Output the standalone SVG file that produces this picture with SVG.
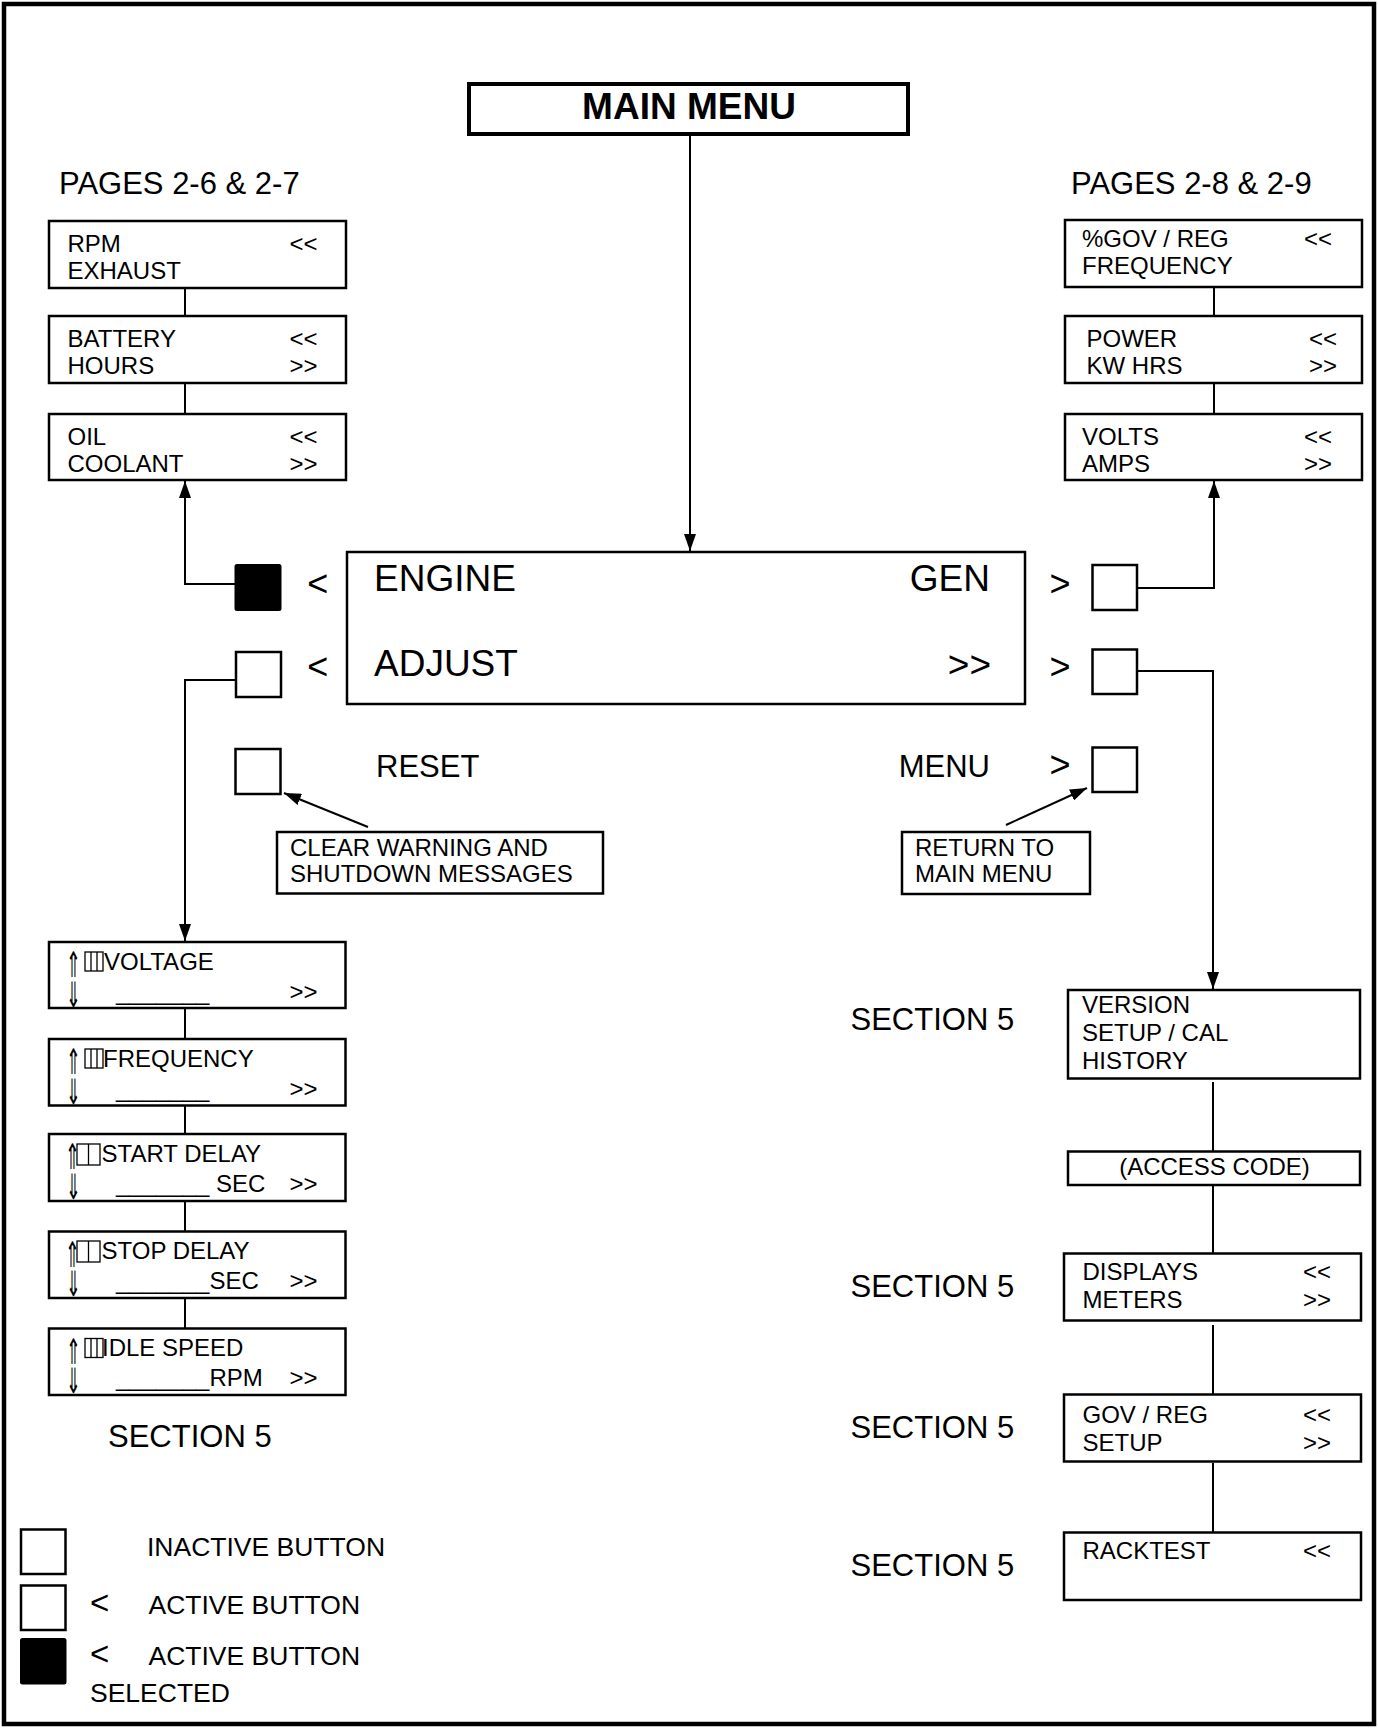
<svg xmlns="http://www.w3.org/2000/svg" width="1378" height="1728" viewBox="0 0 1378 1728">
<defs>
<style>
.box{fill:#fff;stroke:#000;stroke-width:2.5}
.sel{fill:#000;stroke:#000;stroke-width:2}
.t{font-family:"Liberation Sans",Arial,Helvetica,sans-serif;fill:#000}
.s{font-size:24px}
.m{font-size:31px}
.l{font-size:37px}
.h{font-size:31px}
.ar{font-family:"DejaVu Sans",sans-serif;font-size:27px;fill:#000}
.c{fill:none;stroke:#000;stroke-width:2}
.tofu{fill:none;stroke:#000;stroke-width:1.3}
</style>
<marker id="ah" viewBox="0 0 17 12" refX="17" refY="6" markerWidth="17" markerHeight="12" markerUnits="userSpaceOnUse" orient="auto"><path d="M0,0L17,6L0,12z" fill="#000"/></marker>
</defs>
<rect width="1378" height="1728" fill="#fff"/>
<rect x="4" y="4" width="1370" height="1720" fill="none" stroke="#000" stroke-width="4.5"/>

<g id="connectors">
<path class="c" d="M690,134V551" marker-end="url(#ah)"/>
<path class="c" d="M235,584H185V481" marker-end="url(#ah)"/>
<path class="c" d="M236,680H185V941" marker-end="url(#ah)"/>
<path class="c" d="M1137,588H1214V481" marker-end="url(#ah)"/>
<path class="c" d="M1137,671H1213V989" marker-end="url(#ah)"/>
<path class="c" d="M368,827L284,793" marker-end="url(#ah)"/>
<path class="c" d="M1006,825L1087,788" marker-end="url(#ah)"/>
<path class="c" d="M185,288V316M185,383V414"/>
<path class="c" d="M1214,287V316M1214,383V414"/>
<path class="c" d="M185,1008V1039M185,1105V1134M185,1201V1232M185,1298V1328"/>
<path class="c" d="M1213,1082V1151M1213,1185V1253M1213,1325V1394M1213,1463V1532"/>
</g>

<g id="main-menu">
<rect x="469" y="84" width="439" height="50" fill="#fff" stroke="#000" stroke-width="4"/>
<text x="689" y="119" text-anchor="middle" class="t" font-size="37" font-weight="bold">MAIN MENU</text>
</g>

<text x="59" y="194" class="t m">PAGES 2-6 &amp; 2-7</text>
<text x="1071" y="194" class="t m">PAGES 2-8 &amp; 2-9</text>

<g id="rpm-exhaust">
<rect class="box" x="49" y="221" width="297" height="67"/>
<text x="67.5" y="252" class="t s">RPM</text>
<text x="67.5" y="279" class="t s">EXHAUST</text>
<text x="289.5" y="252" class="t s">&lt;&lt;</text>
</g>
<g id="battery-hours">
<rect class="box" x="49" y="316" width="297" height="67"/>
<text x="67.5" y="347" class="t s">BATTERY</text>
<text x="67.5" y="374" class="t s">HOURS</text>
<text x="289.5" y="347" class="t s">&lt;&lt;</text>
<text x="289.5" y="374" class="t s">&gt;&gt;</text>
</g>
<g id="oil-coolant">
<rect class="box" x="49" y="414" width="297" height="66"/>
<text x="67.5" y="445" class="t s">OIL</text>
<text x="67.5" y="472" class="t s">COOLANT</text>
<text x="289.5" y="445" class="t s">&lt;&lt;</text>
<text x="289.5" y="472" class="t s">&gt;&gt;</text>
</g>

<g id="gov-freq">
<rect class="box" x="1065" y="220" width="297" height="67"/>
<text x="1082" y="247" class="t s">%GOV / REG</text>
<text x="1082" y="274" class="t s">FREQUENCY</text>
<text x="1304" y="247" class="t s">&lt;&lt;</text>
</g>
<g id="power-kwhrs">
<rect class="box" x="1065" y="316" width="297" height="67"/>
<text x="1086.5" y="347" class="t s">POWER</text>
<text x="1086.5" y="374" class="t s">KW HRS</text>
<text x="1309" y="347" class="t s">&lt;&lt;</text>
<text x="1309" y="374" class="t s">&gt;&gt;</text>
</g>
<g id="volts-amps">
<rect class="box" x="1065" y="414" width="297" height="66"/>
<text x="1082" y="445" class="t s">VOLTS</text>
<text x="1082" y="472" class="t s">AMPS</text>
<text x="1304" y="445" class="t s">&lt;&lt;</text>
<text x="1304" y="472" class="t s">&gt;&gt;</text>
</g>

<g id="display">
<rect class="box" x="347" y="552" width="678" height="152"/>
<text x="374" y="591" class="t l">ENGINE</text>
<text x="990" y="591" class="t l" text-anchor="end">GEN</text>
<text x="374" y="676" class="t l">ADJUST</text>
<text x="991" y="676.5" class="t l" text-anchor="end">&gt;&gt;</text>
</g>

<g id="btn-engine">
<rect class="sel" x="235.5" y="565" width="45" height="45" rx="1.5"/>
<text x="307.3" y="595.5" class="t" font-size="36">&lt;</text>
</g>
<g id="btn-adjust">
<rect class="box" x="236" y="652" width="45" height="45"/>
<text x="307.3" y="678.5" class="t" font-size="36">&lt;</text>
</g>
<g id="btn-reset">
<rect class="box" x="235.5" y="749" width="45" height="45"/>
<text x="376" y="777" class="t m">RESET</text>
</g>
<g id="btn-gen">
<rect class="box" x="1092.5" y="565" width="44.5" height="45"/>
<text x="1049.5" y="595.5" class="t" font-size="36">&gt;</text>
</g>
<g id="btn-more">
<rect class="box" x="1092.5" y="649.5" width="44.5" height="44.5"/>
<text x="1049.5" y="678.5" class="t" font-size="36">&gt;</text>
</g>
<g id="btn-menu">
<rect class="box" x="1092.5" y="747.5" width="44.5" height="44.5"/>
<text x="990" y="777" class="t m" text-anchor="end">MENU</text>
<text x="1049.5" y="776.5" class="t" font-size="36">&gt;</text>
</g>

<g id="note-clear">
<rect class="box" x="277" y="832" width="326" height="61.5"/>
<text x="290" y="856" class="t s">CLEAR WARNING AND</text>
<text x="290" y="882" class="t s">SHUTDOWN MESSAGES</text>
</g>
<g id="note-return">
<rect class="box" x="902" y="832" width="188" height="62"/>
<text x="915" y="856" class="t s">RETURN TO</text>
<text x="915" y="882" class="t s">MAIN MENU</text>
</g>

<g id="adj-voltage">
<rect class="box" x="49" y="942" width="296.5" height="66"/>
<text transform="translate(66,977) scale(0.65,1.3)" class="ar">⇑</text>
<rect class="tofu" x="85" y="952" width="18" height="19"/><path class="tofu" d="M91,952V971M97,952V971"/>
<text x="104" y="969.5" class="t s">VOLTAGE</text>
<text transform="translate(66,1006.5) scale(0.65,1.3)" class="ar">⇓</text>
<text x="116" y="999.5" class="t s">_______</text>
<text x="289.5" y="999.5" class="t s">&gt;&gt;</text>
</g>
<g id="adj-frequency">
<rect class="box" x="49" y="1039" width="296.5" height="66.5"/>
<text transform="translate(66,1074) scale(0.65,1.3)" class="ar">⇑</text>
<rect class="tofu" x="85" y="1049" width="18" height="19"/><path class="tofu" d="M91,1049V1068M97,1049V1068"/>
<text x="103" y="1066.5" class="t s">FREQUENCY</text>
<text transform="translate(66,1103.5) scale(0.65,1.3)" class="ar">⇓</text>
<text x="116" y="1096.5" class="t s">_______</text>
<text x="289.5" y="1096.5" class="t s">&gt;&gt;</text>
</g>
<g id="adj-start-delay">
<rect class="box" x="49" y="1134" width="296.5" height="67"/>
<text transform="translate(65,1169) scale(0.65,1.3)" class="ar">⇑</text>
<rect class="tofu" x="77" y="1144" width="23" height="21"/><path class="tofu" d="M88.5,1144V1165" stroke-width="2"/>
<text x="101.5" y="1161.5" class="t s">START DELAY</text>
<text transform="translate(66,1198.5) scale(0.65,1.3)" class="ar">⇓</text>
<text x="116" y="1191.5" class="t s">_______ SEC</text>
<text x="289.5" y="1191.5" class="t s">&gt;&gt;</text>
</g>
<g id="adj-stop-delay">
<rect class="box" x="49" y="1231.5" width="296.5" height="66.5"/>
<text transform="translate(65,1266.5) scale(0.65,1.3)" class="ar">⇑</text>
<rect class="tofu" x="77" y="1241" width="23" height="21"/><path class="tofu" d="M88.5,1241V1262" stroke-width="2"/>
<text x="101.5" y="1259" class="t s">STOP DELAY</text>
<text transform="translate(66,1296) scale(0.65,1.3)" class="ar">⇓</text>
<text x="116" y="1289" class="t s">_______SEC</text>
<text x="289.5" y="1289" class="t s">&gt;&gt;</text>
</g>
<g id="adj-idle-speed">
<rect class="box" x="49" y="1328.5" width="296.5" height="66.5"/>
<text transform="translate(66,1363.5) scale(0.65,1.3)" class="ar">⇑</text>
<rect class="tofu" x="85" y="1338.5" width="18" height="19"/><path class="tofu" d="M91,1338.5V1357.5M97,1338.5V1357.5"/>
<text x="102" y="1356" class="t s">IDLE SPEED</text>
<text transform="translate(66,1393) scale(0.65,1.3)" class="ar">⇓</text>
<text x="116" y="1386" class="t s">_______RPM</text>
<text x="289.5" y="1386" class="t s">&gt;&gt;</text>
</g>
<text x="108" y="1447" class="t h">SECTION 5</text>

<g id="version">
<rect class="box" x="1068" y="990" width="292" height="88.5"/>
<text x="1082" y="1013" class="t s">VERSION</text>
<text x="1082" y="1041" class="t s">SETUP / CAL</text>
<text x="1082" y="1069" class="t s">HISTORY</text>
</g>
<text x="850.5" y="1030" class="t h">SECTION 5</text>
<g id="access-code">
<rect class="box" x="1068" y="1151.5" width="292" height="33.5"/>
<text x="1214.5" y="1175" class="t s" text-anchor="middle">(ACCESS CODE)</text>
</g>
<g id="displays-meters">
<rect class="box" x="1064" y="1253.5" width="297" height="67"/>
<text x="1082.5" y="1280" class="t s">DISPLAYS</text>
<text x="1082.5" y="1308" class="t s">METERS</text>
<text x="1303" y="1280" class="t s">&lt;&lt;</text>
<text x="1303" y="1308" class="t s">&gt;&gt;</text>
</g>
<text x="850.5" y="1297" class="t h">SECTION 5</text>
<g id="gov-setup">
<rect class="box" x="1064" y="1394.5" width="297" height="67"/>
<text x="1082.5" y="1423" class="t s">GOV / REG</text>
<text x="1082.5" y="1451" class="t s">SETUP</text>
<text x="1303" y="1423" class="t s">&lt;&lt;</text>
<text x="1303" y="1451" class="t s">&gt;&gt;</text>
</g>
<text x="850.5" y="1437.5" class="t h">SECTION 5</text>
<g id="racktest">
<rect class="box" x="1064" y="1532.5" width="297" height="67.5"/>
<text x="1082.5" y="1559" class="t s">RACKTEST</text>
<text x="1303" y="1559" class="t s">&lt;&lt;</text>
</g>
<text x="850.5" y="1575.5" class="t h">SECTION 5</text>

<g id="legend">
<rect class="box" x="21" y="1529.5" width="44.5" height="44.5"/>
<text x="147" y="1555.5" class="t" font-size="26.5">INACTIVE BUTTON</text>
<rect class="box" x="21" y="1585.5" width="44.5" height="44.5"/>
<text x="90" y="1613.5" class="t" font-size="33">&lt;</text>
<text x="148.5" y="1613.5" class="t" font-size="26.5">ACTIVE BUTTON</text>
<rect class="sel" x="21" y="1639" width="44.5" height="44.5" rx="1.5"/>
<text x="90" y="1665" class="t" font-size="33">&lt;</text>
<text x="148.5" y="1665" class="t" font-size="26.5">ACTIVE BUTTON</text>
<text x="90" y="1701.5" class="t" font-size="26.5">SELECTED</text>
</g>
</svg>
